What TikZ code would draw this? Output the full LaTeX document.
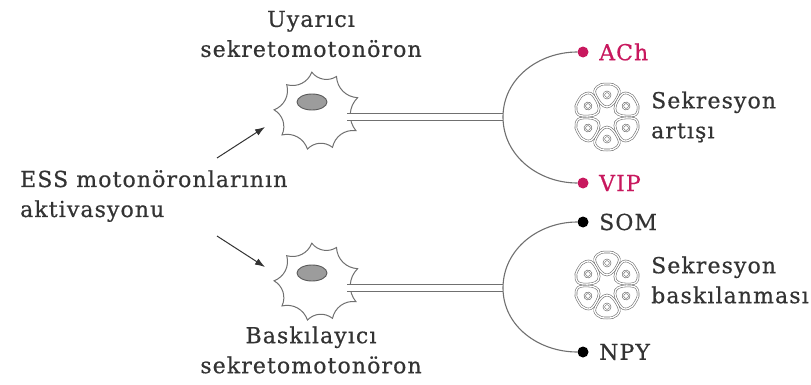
\documentclass[tikz,border=0pt]{standalone}
\usepackage{fontspec}
\setmainfont{DejaVu Serif}[LetterSpace=5,FakeBold=0.6]
\usetikzlibrary{arrows.meta,positioning}
\definecolor{nerveGray}{HTML}{707070}
\definecolor{inkGray}{HTML}{333333}
\definecolor{peptidePink}{HTML}{C8185E}
\definecolor{nucleusGray}{HTML}{9C9C9C}

\begin{document}
\begin{tikzpicture}[x=1pt,y=1pt,font=\fontsize{22}{30}\selectfont,text=inkGray,
    lbl/.style={inner sep=0pt,text=inkGray},
    soma/.style={draw=nerveGray,fill=white,line width=1pt},
    nucleus/.style={draw=nerveGray!80!black,fill=nucleusGray,line width=0.9pt},
    axon/.style={draw=nerveGray,line width=1.1pt,double=white,double distance=6pt},
    fork/.style={draw=nerveGray,line width=1.1pt},
    dot/.style={circle,inner sep=0pt,minimum size=11pt},
    cell/.style={draw=nerveGray,line width=0.6pt,double=white,double distance=1.3pt},
    pointer/.style={-{Latex[length=10pt,width=7pt]},draw=inkGray,line width=1pt}]
  \useasboundingbox (0,0) rectangle (811,384);

  % labels of the two secretomotor neurons
  \node[lbl,align=center] (upname) at (311,350) {Uyarıcı\\ sekretomotonöron};
  \node[lbl,align=center] (loname) at (311,34) {Baskılayıcı\\ sekretomotonöron};
  \node[lbl,align=left,anchor=west] (ess) at (20,188) {ESS motonöronlarının\\ aktivasyonu};

  % neurons: scalloped soma, nucleus, axon
  \foreach \yy/\nm in {272/up,101/lo} {
    \coordinate (\nm soma) at (316,\yy);
    \draw[axon] (350,\yy-5) -- (503,\yy-5);
    \begin{scope}[shift={(316,\yy)}]
      \draw[soma] (19:44) \foreach \a/\r in {60/41,96/40,137/40,177/42,214/41,257/38,295/39,335/44,379/44} { to[bend left=42] (\a:\r) } -- cycle;
      \draw[nucleus] (-4,10) ellipse (15 and 8);
    \end{scope}
    \draw[axon] (347,\yy-5) -- (503,\yy-5);
  }
  \coordinate (upend) at (503,267);
  \coordinate (loend) at (503,96);

  % transmitter endings
  \node[dot,fill=peptidePink] (ach) at (583,332) {};
  \node[dot,fill=peptidePink] (vip) at (583,201) {};
  \node[dot,fill=black] (som) at (583,162) {};
  \node[dot,fill=black] (npy) at (583,32) {};
  \node[lbl,text=peptidePink,anchor=west] at (599,332) {ACh};
  \node[lbl,text=peptidePink,anchor=west] at (599,201) {VIP};
  \node[lbl,anchor=west] at (599,162) {SOM};
  \node[lbl,anchor=west] at (599,32) {NPY};
  \draw[fork] (ach) to[out=180,in=90] (upend) to[out=-90,in=180] (vip);
  \draw[fork] (som) to[out=180,in=90] (loend) to[out=-90,in=180] (npy);

  % glands
  \foreach \yy in {267,99} {
    \begin{scope}[shift={(607,\yy)}]
      \foreach \a in {90,30,-30,-90,-150,150} {
        \begin{scope}[rotate=\a]
          \draw[cell] plot[smooth cycle,tension=0.8] coordinates {(10,0) (21,-11) (30,-10) (33,0) (30,10) (21,11)};
          \draw[draw=nerveGray,line width=0.6pt,double=white,double distance=0.8pt] (22,0) circle (3.2);
        \end{scope}
      }
    \end{scope}
  }
  \node[lbl,align=left,anchor=west] (upeff) at (651,267) {Sekresyon\\ artışı};
  \node[lbl,align=left,anchor=west] (loeff) at (651,104) {Sekresyon\\ baskılanması};

  % activation arrows
  \coordinate (uptail) at (217,226);
  \coordinate (uphead) at (265,257);
  \coordinate (lotail) at (217,148);
  \coordinate (lohead) at (265,117);
  \draw[pointer] (uptail) -- (uphead);
  \draw[pointer] (lotail) -- (lohead);
\end{tikzpicture}
\end{document}
